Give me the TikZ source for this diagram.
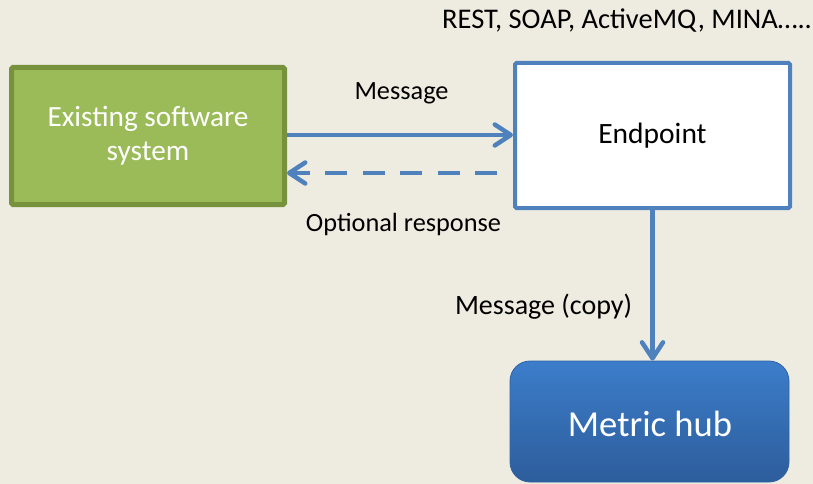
\documentclass[tikz,border=0pt]{standalone}
\usepackage{fontspec}
\setmainfont{Carlito}
\usetikzlibrary{arrows.meta}
\definecolor{bgpaper}{HTML}{EEECE1}
\definecolor{greenfill}{HTML}{9BBB59}
\definecolor{greenline}{HTML}{76923C}
\definecolor{blueline}{HTML}{4F81BD}
\definecolor{hubtop}{HTML}{3C7DCA}
\definecolor{hubbot}{HTML}{2D5D9B}
\tikzset{
  sysbox/.style={draw=greenline, fill=greenfill, line width=5pt, rounded corners=1.5pt,
    minimum width=273pt, minimum height=137pt, text=white, align=center,
    font=\fontsize{29.3}{34}\selectfont},
  epbox/.style={draw=blueline, fill=white, line width=4pt, rounded corners=1.5pt,
    minimum width=275pt, minimum height=145pt, font=\fontsize{29.5}{34}\selectfont},
  hubbox/.style={draw=hubbot!80!hubtop, line width=0.8pt, rounded corners=20pt,
    top color=hubtop, bottom color=hubbot, minimum width=279pt, minimum height=121pt},
  lbl/.style={font=\fontsize{26.3}{30}\selectfont, text=black},
  flow/.style={draw=blueline, line width=4.5pt,
    -{Straight Barb[length=16pt, width=21pt, round]}},
  dashflow/.style={flow, dash pattern=on 22pt off 15.5pt}
}
\begin{document}
\begin{tikzpicture}[x=1pt, y=-1pt]
  \fill[bgpaper] (0,0) rectangle (813,484);
  \useasboundingbox (0,0) rectangle (813,484);

  % boxes
  \node[sysbox] (sys) at (148,136) {Existing software\\system};
  \node[epbox] (ep) at (652.5,135.5) {Endpoint};
  \begin{scope}
    \clip (0,0) rectangle (813,484);
    \node[hubbox] (hub) at (649.5,421.5) {};
  \end{scope}
  \node[text=white, font=\fontsize{36.6}{42}\selectfont] (hubtext) at (650,424) {Metric hub};

  % labels
  \node[lbl, font=\fontsize{28.5}{32}\selectfont] (toptxt) at (627,21) {REST, SOAP, ActiveMQ, MINA…..};
  \node[lbl] (msg) at (401.5,93) {Message};
  \node[lbl] (opt) at (403.5,224) {Optional response};
  \node[lbl, font=\fontsize{28}{32}\selectfont] (copy) at (543.5,307) {Message (copy)};

  % connectors
  \draw[flow] ([yshift=1pt]sys.east) -- ([yshift=0.5pt]ep.west);
  \draw[dashflow, shorten <=16pt] ([yshift=-37.5pt]ep.west) -- (sys.east |- 0,173);
  \draw[flow] (ep.south) -- (ep.south |- hub.north);
\end{tikzpicture}
\end{document}
